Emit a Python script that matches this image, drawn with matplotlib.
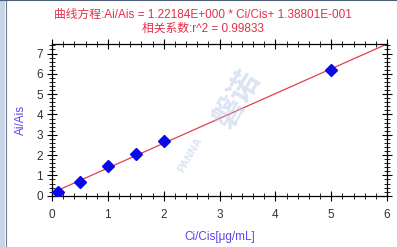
import matplotlib
matplotlib.use("Agg")
import matplotlib.pyplot as plt
from matplotlib.ticker import MultipleLocator
from matplotlib.patches import Rectangle
import numpy as np

plt.rcParams['font.family'] = ['Liberation Sans', 'Noto Sans CJK SC', 'DejaVu Sans']

conc = [0.1, 0.5, 1.0, 1.5, 2.0, 5.0]
ratio = [0.16, 0.69, 1.46, 2.03, 2.68, 6.21]
slope = 1.22184
intercept = 0.138801
fit_x = [0.0, 6.0]
title1 = "曲线方程:Ai/Ais = 1.22184E+000 * Ci/Cis+ 1.38801E-001"
title2 = "相关系数:r^2 = 0.99833"
xlabel = "Ci/Cis[μg/mL]"
ylabel = "Ai/Ais"

fig = plt.figure(figsize=(3.97, 2.47), dpi=100)
ax = fig.add_axes([52/397, 1-195.7/247, (387-52)/397, (195.7-44)/247])

fx = np.array(fit_x)
ax.plot(fx, slope*fx + intercept, color='#e0404f', lw=0.9, zorder=2)
ax.plot(conc, ratio, linestyle='none', marker='D', markersize=6,
        color='#0a0ae6', markeredgecolor='#0a0ae6', zorder=3)

ax.set_xlim(0, 6)
ax.set_ylim(0, slope*6 + intercept)
ax.xaxis.set_major_locator(MultipleLocator(1))
ax.xaxis.set_minor_locator(MultipleLocator(0.2))
ax.yaxis.set_major_locator(MultipleLocator(1))
ax.yaxis.set_minor_locator(MultipleLocator(0.2))
ax.tick_params(which='major', direction='inout', length=7, width=0.8,
               top=True, right=True, labelsize=8.5, labelcolor='#333333', pad=3)
ax.tick_params(which='minor', direction='inout', length=4, width=0.6,
               top=True, right=True)
ax.tick_params(axis='x', which='major', pad=6)
for s in ax.spines.values():
    s.set_linewidth(0.9)

ax.set_xlabel(xlabel, fontsize=8.5, color='#5a45e8', labelpad=7)
ax.set_ylabel(ylabel, fontsize=8.5, color='#5a45e8', labelpad=7)

fig.text(203/397, 1-15/247, title1, ha='center', va='center', fontsize=8.5, color='#e0304a')
fig.text(203/397, 1-29/247, title2, ha='center', va='center', fontsize=8.5, color='#e0304a')

# watermark
fig.text(238/397, 1-100/247, "磐诺", fontsize=22, color='#b5c9e8', alpha=0.5,
         rotation=60, ha='center', va='center', fontweight='bold')
fig.text(190/397, 1-155/247, "PANNA", fontsize=8, color='#b5c9e8', alpha=0.5,
         rotation=60, ha='center', va='center', fontweight='bold')

# window frame
fig.patches.append(Rectangle((0, 0), 5/397, 1, transform=fig.transFigure,
                             facecolor='#c9d5e6', edgecolor='none', zorder=0))
fig.lines.append(plt.Line2D([5.5/397, 5.5/397], [0, 1], transform=fig.transFigure,
                            color='#6b7a8c', lw=0.8))
fig.lines.append(plt.Line2D([0, 1], [1-0.5/247, 1-0.5/247], transform=fig.transFigure,
                            color='#50607a', lw=0.8))

fig.savefig("out.png", dpi=100)
